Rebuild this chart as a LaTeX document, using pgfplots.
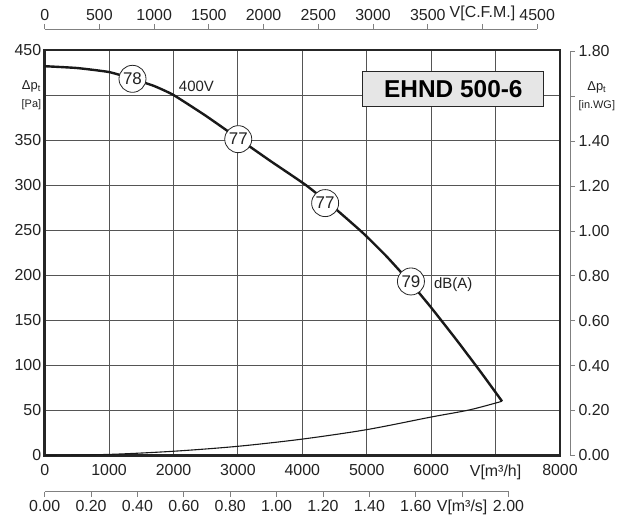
\documentclass[border=0pt]{standalone}
\usepackage{fontspec}
\setmainfont{Liberation Sans}
\usepackage{pgfplots}
\pgfplotsset{compat=1.18}

\definecolor{gridgray}{HTML}{555555}
\definecolor{axgray}{HTML}{808080}
\definecolor{txt}{HTML}{222222}
\definecolor{boxfill}{HTML}{E6E6E6}

\pgfplotsset{
  extra/.style={
    scale only axis,
    anchor=south west,
    tick align=outside,
    major tick length=5bp,
    axis line style={axgray, line width=0.8bp},
    tick style={axgray, line width=0.8bp},
    ticklabel style={font=\fontsize{16}{18}\selectfont, text=txt},
  },
}

\begin{document}
\begin{tikzpicture}
% main axis: V [m3/h] against dp [Pa]
\begin{axis}[
  scale only axis, width=515.3bp, height=405.3bp,
  anchor=south west, at={(0,0)},
  xmin=0, xmax=8000, ymin=0, ymax=450,
  xtick={0,1000,...,8000},
  xticklabels={0,1000,2000,3000,4000,5000,6000,V[m³/h],8000},
  ytick={0,50,...,450},
  yticklabels={0,50,100,150,200,250,300,350,
    {\fontsize{13}{14}\selectfont Δp\textsubscript{t}\\\fontsize{11}{13}\selectfont{[Pa]}},450},
  yticklabel style={align=center},
  xticklabel style={yshift=-6bp},
  ticklabel style={font=\fontsize{16}{18}\selectfont, text=txt},
  major tick length=0pt,
  grid=major, grid style={gridgray, line width=0.9bp},
  axis line style={black!85, line width=2.6bp},
]
% fan curve
\addplot[black!90, line width=2.4bp, smooth, tension=0.3] coordinates {
  (0,432) (500,430) (1000,425.5) (1363,418) (1700,410) (2000,400) (2500,377)
  (3000,352) (3500,327) (4055,300) (4500,274.5) (4943,246.7) (5300,221.4)
  (5686,191) (6000,164) (6400,127.5) (6800,89.5) (7100,60)
};
% system curve
\addplot[black!90, line width=1.1bp, smooth] coordinates {
  (0,0) (1000,1) (2000,4.5) (3000,10) (4000,18) (5000,28.5) (6000,42.5) (6600,50.5) (7100,60)
};
% sound levels
\addplot[only marks, mark=*, mark size=13.5bp,
  mark options={fill=white, draw=black!85, line width=0.8bp},
  nodes near coords, point meta=explicit symbolic,
  nodes near coords style={anchor=center, text=txt, font=\fontsize{17}{19}\selectfont}]
  coordinates {(1363,418)[78] (3005,351)[77] (4354,280)[77] (5686,193)[79]};
\node[anchor=base west, text=txt, font=\fontsize{15}{17}\selectfont] at (axis cs:2030,404) {400V};
\node[anchor=west, text=txt, font=\fontsize{15}{17}\selectfont] at (axis cs:5990,189) {dB(A)};
\node[draw=black!85, fill=boxfill, line width=1bp, minimum width=181bp, minimum height=35bp,
  inner sep=0pt, font=\bfseries\fontsize{24.5}{26}\selectfont] at (axis cs:6345,407) {EHND 500-6};
\end{axis}

% top: V [CFM]
\begin{axis}[extra, at={(0,416.3bp)}, width=492.5bp, height=10bp,
  xmin=0, xmax=4500, ymin=0, ymax=1, hide y axis, axis x line*=top,
  xtick={0,500,1000,1500,2000,2500,3000,3500,4000,4500},
  xticklabels={0,500,1000,1500,2000,2500,3000,3500,V[C.F.M.],4500}]
\addplot[draw=none] coordinates {(0,0)};
\end{axis}

% bottom: V [m3/s]
\begin{axis}[extra, at={(0,-36.4bp)}, width=463.8bp, height=10bp,
  xmin=0, xmax=2, ymin=0, ymax=1, hide y axis, axis x line*=bottom,
  xtick={0,0.2,0.4,0.6,0.8,1,1.2,1.4,1.6,1.8,2},
  xticklabels={0.00,0.20,0.40,0.60,0.80,1.00,1.20,1.40,1.60,V[m³/s],2.00}]
\addplot[draw=none] coordinates {(0,0)};
\end{axis}

% right: dp [in.WG]
\begin{axis}[extra, at={(515.3bp,0)}, width=10bp, height=403.8bp,
  xmin=0, xmax=1, ymin=0, ymax=1.8, hide x axis, axis y line*=right,
  ytick={0,0.2,0.4,0.6,0.8,1,1.2,1.4,1.6,1.8},
  yticklabels={0.00,0.20,0.40,0.60,0.80,1.00,1.20,1.40,
    {\fontsize{13}{14}\selectfont Δp\textsubscript{t}\\\fontsize{11}{13}\selectfont{[in.WG]}},1.80},
  yticklabel style={align=center}]
\addplot[draw=none] coordinates {(0,0)};
\end{axis}

\pgfresetboundingbox
\path[use as bounding box] (-44.7bp,-61.7bp) rectangle (572.3bp,455.3bp);
\end{tikzpicture}
\end{document}
